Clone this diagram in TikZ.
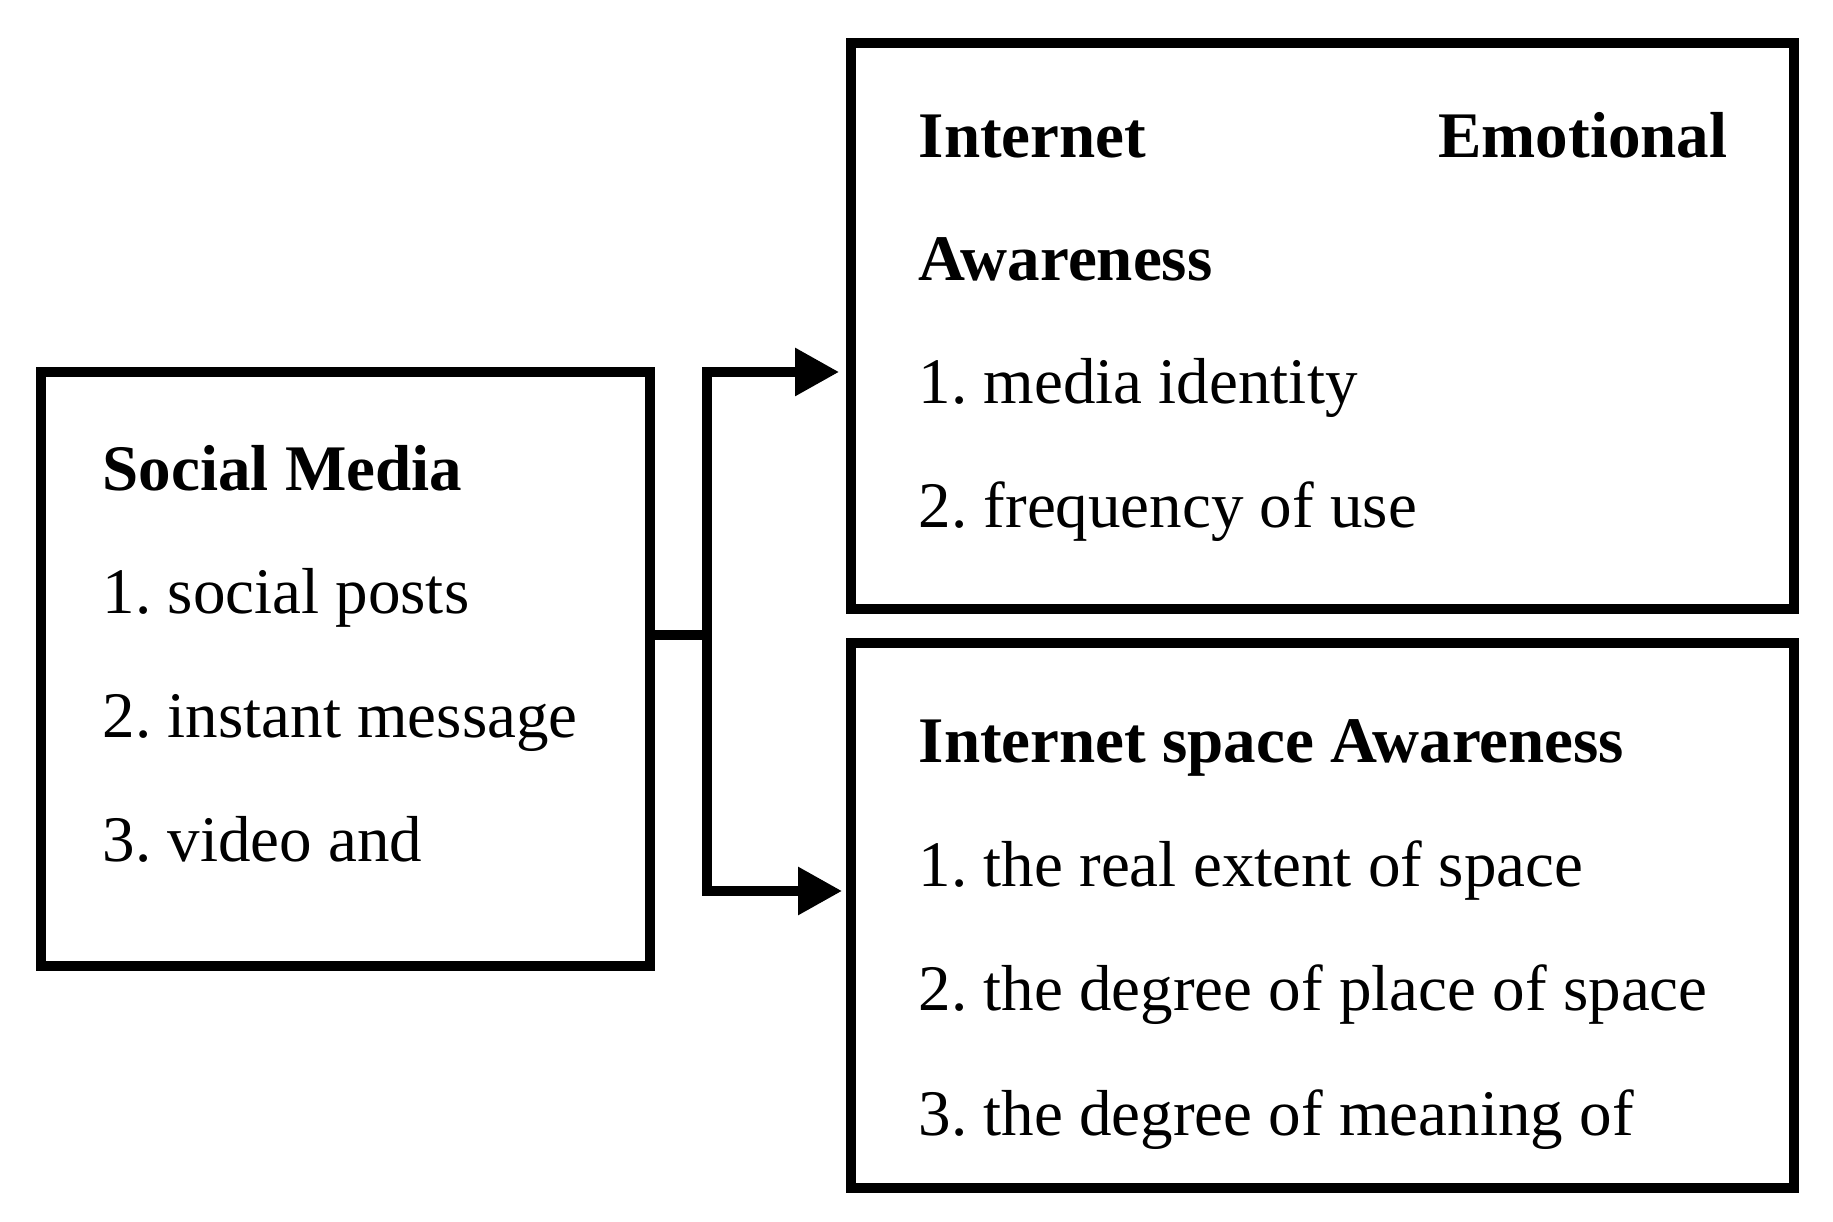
\documentclass[tikz,border=0pt]{standalone}
\usepackage{fontspec}
\setmainfont{Liberation Serif}
\usetikzlibrary{arrows.meta}
\tikzset{
  box/.style={draw=black, line width=0.094cm, rectangle, inner sep=0pt, line join=miter},
  txt/.style={anchor=base west, inner sep=0pt, font=\fontsize{18.5}{22}\selectfont\frenchspacing},
  conn/.style={draw=black, line width=0.094cm, line join=miter},
  arr/.style={conn, -{Triangle[length=0.44cm, width=0.46cm]}}
}
\begin{document}
\begin{tikzpicture}
\useasboundingbox[fill=white] (0,0) rectangle (18.33,-12.22);
% boxes
\node[box, minimum width=6.09cm, minimum height=5.94cm] (sm) at (3.455,-6.69) {};
\node[box, minimum width=9.43cm, minimum height=5.66cm] (iea) at (13.225,-3.26) {};
\node[box, minimum width=9.43cm, minimum height=5.45cm] (isa) at (13.225,-9.155) {};
% left texts
\node[txt] (sm0) at (1.02,-4.91) {\textbf{Social Media}};
\node[txt] (sm1) at (1.02,-6.14) {1. social posts};
\node[txt] (sm2) at (1.02,-7.38) {2. instant message};
\node[txt] (sm3) at (1.02,-8.62) {3. video and};
% top right texts
\node[txt] (iea0a) at (9.18,-1.58) {\textbf{Internet}};
\node[txt, anchor=base east] (iea0b) at (17.28,-1.58) {\textbf{Emotional}};
\node[txt] (iea0c) at (9.18,-2.81) {\textbf{Awareness}};
\node[txt] (iea1) at (9.18,-4.04) {1. media identity};
\node[txt] (iea2) at (9.18,-5.28) {2. frequency of use};
% bottom right texts
\node[txt] (isa0) at (9.18,-7.63) {\textbf{Internet space Awareness}};
\node[txt] (isa1) at (9.18,-8.87) {1. the real extent of space};
\node[txt] (isa2) at (9.18,-10.11) {2. the degree of place of space};
\node[txt] (isa3) at (9.18,-11.35) {3. the degree of meaning of};
% connectors
\coordinate (j) at (7.07,-6.35);
\coordinate (tipA) at (8.39,-3.72);
\coordinate (tipB) at (8.42,-8.91);
\draw[conn] (j -| sm.east) -- (j);
\draw[arr] (j) |- (tipA);
\draw[arr] (j) |- (tipB);
\end{tikzpicture}
\end{document}
